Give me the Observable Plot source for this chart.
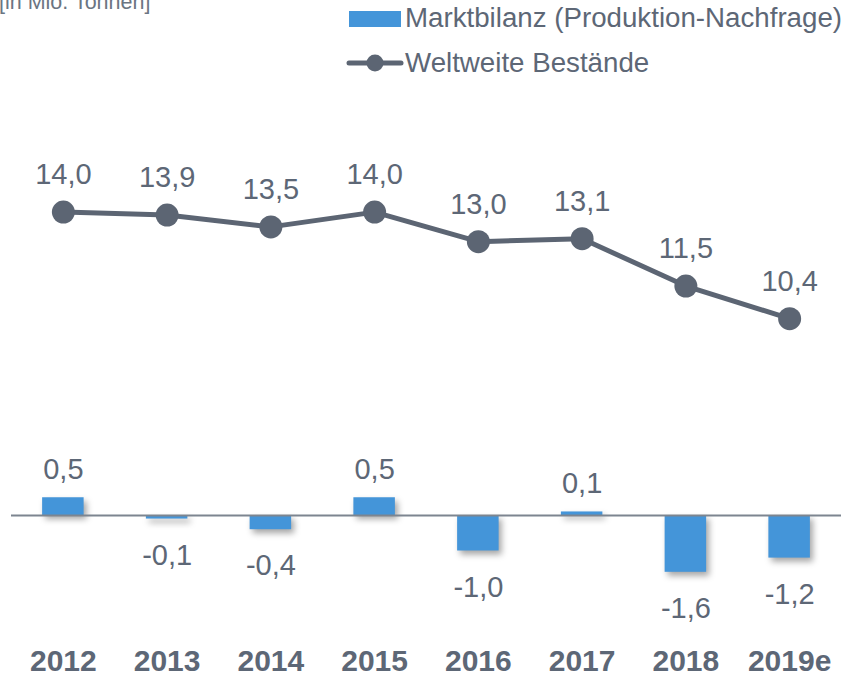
<!DOCTYPE html>
<html>
<head>
<meta charset="utf-8">
<script src="https://cdn.jsdelivr.net/npm/d3@7"></script>
<script src="https://cdn.jsdelivr.net/npm/@observablehq/plot@0.6"></script>
<style>
  html, body { margin: 0; padding: 0; background: #fff; }
  #wrap { position: relative; width: 861px; height: 677px; overflow: hidden; font-family: "Liberation Sans", Arial, sans-serif; }
  #wrap > svg { position: absolute; left: 0; top: 0; }
  g[aria-label="bar"] rect { filter: drop-shadow(3px 4px 3px rgba(0,0,0,0.35)); }
</style>
</head>
<body>
<div id="wrap">
  <svg id="legend" width="861" height="100" font-family="Liberation Sans, Arial, sans-serif">
    <text x="-1" y="9" font-size="21.5" fill="#6b7582">[in Mio. Tonnen]</text>
    <rect x="349" y="11" width="52" height="16" fill="#4495d9"></rect>
    <text x="405" y="27" font-size="27.7" fill="#5d6776">Marktbilanz (Produktion-Nachfrage)</text>
    <line x1="349" x2="401" y1="63" y2="63" stroke="#5c6573" stroke-width="5" stroke-linecap="round"></line>
    <circle cx="375" cy="63" r="8.5" fill="#5c6573"></circle>
    <text x="405" y="72" font-size="27.7" fill="#5d6776">Weltweite Bestände</text>
  </svg>
</div>
<script>
const years = ["2012","2013","2014","2015","2016","2017","2018","2019e"];
const bestaende = [14.0, 13.9, 13.5, 14.0, 13.0, 13.1, 11.5, 10.4];
const marktbilanz = [0.5, -0.1, -0.4, 0.5, -1.0, 0.1, -1.6, -1.2];

const lineData = years.map((y, i) => ({year: y, v: bestaende[i]}));
const barData = years.map((y, i) => ({year: y, v: marktbilanz[i]}));

const de = d3.formatLocale({decimal: ",", thousands: ".", grouping: [3], currency: ["", "€"], minus: "-"});
const fmt = de.format(".1f");

const W = 861, H = 677;
const textColor = "#5d6776";
const lineColor = "#5c6573";
const barColor = "#4495d9";
const font = "Liberation Sans, Arial, sans-serif";
const xScale = {type: "band", domain: years, paddingInner: 0.6, paddingOuter: 0.3, round: false, axis: null};

const linePlot = Plot.plot({
  width: W, height: H,
  marginLeft: 11, marginRight: 20, marginTop: 182, marginBottom: 347,
  style: {background: "transparent", fontFamily: font},
  x: xScale,
  y: {domain: [10, 15], axis: null},
  marks: [
    Plot.line(lineData, {x: "year", y: "v", stroke: lineColor, strokeWidth: 5}),
    Plot.dot(lineData, {x: "year", y: "v", r: 11.5, fill: lineColor}),
    Plot.text(lineData, {x: "year", y: "v", text: d => fmt(d.v), lineAnchor: "bottom", dy: -28, fontSize: 29, fill: textColor})
  ]
});

const barPlot = Plot.plot({
  width: W, height: H,
  marginLeft: 11, marginRight: 20, marginTop: 479.5, marginBottom: 91,
  style: {background: "transparent", fontFamily: font},
  x: xScale,
  y: {domain: [-2, 1], axis: null},
  marks: [
    Plot.barY(barData, {x: "year", y: "v", fill: barColor}),
    Plot.ruleY([0], {stroke: "#7d8590", strokeWidth: 2}),
    Plot.text(barData.filter(d => d.v >= 0), {x: "year", y: "v", text: d => fmt(d.v), lineAnchor: "bottom", dy: -19, fontSize: 29, fill: textColor}),
    Plot.text(barData.filter(d => d.v < 0), {x: "year", y: "v", text: d => fmt(d.v), lineAnchor: "top", dy: 25, fontSize: 29, fill: textColor}),
    Plot.text(years, {x: d => d, frameAnchor: "bottom", lineAnchor: "top", dy: 63, text: d => d, fontSize: 30, fontWeight: "bold", fill: textColor})
  ]
});

const wrap = document.getElementById("wrap");
wrap.appendChild(linePlot);
wrap.appendChild(barPlot);
</script>
</body>
</html>
